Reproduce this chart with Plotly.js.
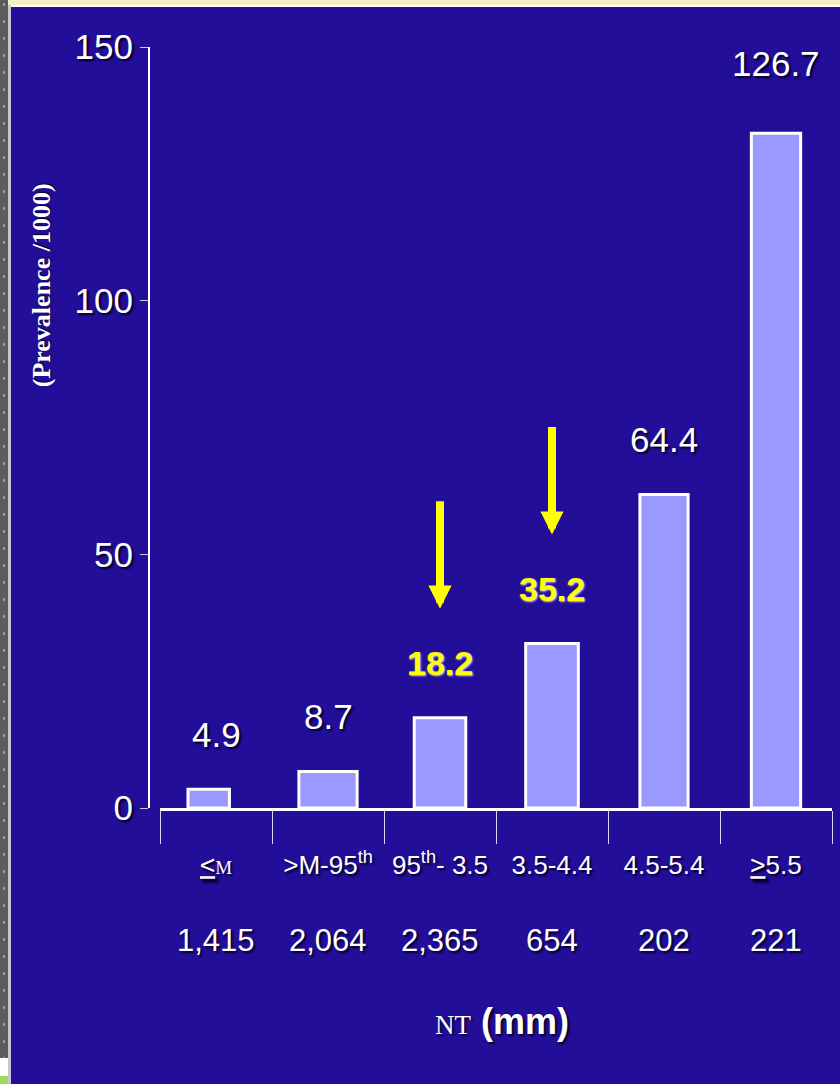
<!DOCTYPE html>
<html>
<head>
<meta charset="utf-8">
<script src="https://cdn.plot.ly/plotly-3.0.1.min.js"></script>
<style>
  html, body { margin:0; padding:0; background:#ffffff; width:840px; height:1084px; overflow:hidden; position:relative; }
  #strip { position:absolute; left:0; top:0; width:8px; height:1058px; background-color:#5c5c5c;
    background-image: radial-gradient(circle, #9a9a9a 1.2px, rgba(0,0,0,0) 1.6px);
    background-size: 8px 17px; background-position: 0 -4px; }
  #strip2 { position:absolute; left:8px; top:0; width:3px; height:1084px; background:#c8c8c8; }
  #green { position:absolute; left:0; top:1076px; width:8px; height:8px; background:#9ed85a; }
  #topbar { position:absolute; left:8px; top:0; width:832px; height:5px; background:#f3efc6; }
  #topline { position:absolute; left:11px; top:5px; width:829px; height:2px; background:#ffffff; }
  #chart { position:absolute; left:11px; top:7px; width:829px; height:1077px; }
</style>
</head>
<body>
<div id="strip"></div><div id="strip2"></div><div id="green"></div>
<div id="topbar"></div><div id="topline"></div>
<div id="chart"></div>
<script>
// ---- data ----
const categories = ['≤M', '>M-95th', '95th-3.5', '3.5-4.4', '4.5-5.4', '≥5.5'];
const tickLabels = [
  '<u>&lt;</u><span style="font-family:\'Liberation Serif\';font-size:19px">M</span>',
  '&gt;M-95<sup>th</sup>',
  '95<sup>th</sup>- 3.5',
  '3.5-4.4',
  '4.5-5.4',
  '<u>&gt;</u>5.5'
];
const barHeights = [3.7, 7.2, 17.8, 32.4, 61.8, 133.0];
const prevalenceLabels = ['4.9', '8.7', '18.2', '35.2', '64.4', '126.7'];
const counts = ['1,415', '2,064', '2,365', '654', '202', '221'];
const highlighted = [false, false, true, true, false, false];
const yTicks = [0, 50, 100, 150];

// ---- styling ----
const BG = '#220e98';
const SHADOW = '2px 2px 2px #05002a';
const YSHADOW = '1px 1px 2px #d0d0ff';
const sans = 'Liberation Sans, Arial, sans-serif';
const serif = 'Liberation Serif, Times New Roman, serif';

const annotations = [];
categories.forEach((c, i) => {
  const hi = highlighted[i];
  const last = i === categories.length - 1;
  annotations.push({
    x: c, y: barHeights[i], xref: 'x', yref: 'y',
    text: prevalenceLabels[i], showarrow: false,
    yanchor: 'middle', yshift: last ? 70 : 55,
    font: hi ? {family: sans, size: 34, color: '#ffff00', weight: 'bold', shadow: YSHADOW}
             : {family: sans, size: 35, color: '#ffffff', shadow: SHADOW}
  });
  annotations.push({
    x: c, xref: 'x', y: -0.1735, yref: 'paper',
    text: counts[i], showarrow: false, yanchor: 'middle',
    font: {family: sans, size: 31, color: '#ffffff', shadow: SHADOW}
  });
  if (hi) {
    annotations.push({
      x: c, y: barHeights[i], xref: 'x', yref: 'y',
      text: '', showarrow: true, ax: 0, ay: -109, yshift: 109,
      arrowcolor: '#ffff00', arrowwidth: 8, arrowhead: 2, arrowsize: 0.58,
      standoff: 0, startstandoff: 0
    });
  }
});
annotations.push({
  xref: 'paper', yref: 'paper', x: -0.158, y: 0.687,
  text: '<b>(Prevalence /1000)</b>', textangle: -90, showarrow: false,
  xanchor: 'center', yanchor: 'middle',
  font: {family: serif, size: 26, color: '#ffffff', shadow: '1px 1px 1px #05002a'}
});
annotations.push({
  xref: 'paper', yref: 'paper', x: 0.517, y: -0.281,
  text: '<span style="font-family:\'Liberation Serif\';font-size:27px;font-weight:normal">NT</span> <b>(mm)</b>',
  showarrow: false, xanchor: 'center', yanchor: 'middle',
  font: {family: sans, size: 36, color: '#ffffff', shadow: SHADOW}
});

const trace = {
  type: 'bar',
  x: categories,
  y: barHeights,
  width: [0.37, 0.52, 0.46, 0.47, 0.43, 0.44],
  offset: [-0.25, -0.26, -0.23, -0.235, -0.215, -0.22],
  marker: {color: '#9999ff', line: {color: '#ffffff', width: 3}},
  hoverinfo: 'skip'
};

const layout = {
  width: 829, height: 1077,
  paper_bgcolor: BG, plot_bgcolor: BG,
  margin: {l: 138, r: 8, t: 40, b: 276, pad: 0},
  showlegend: false,
  bargap: 0.5,
  xaxis: {
    type: 'category', domain: [11 / 683, 1],
    tickvals: categories, ticktext: tickLabels,
    showline: true, linecolor: '#ffffff', linewidth: 3,
    ticks: 'outside', tickson: 'boundaries', ticklen: 33, tickwidth: 1, tickcolor: '#d6d6ff',
    ticklabelstandoff: 32,
    tickfont: {family: sans, size: 26, color: '#ffffff', shadow: SHADOW},
    showgrid: false, zeroline: false, fixedrange: true
  },
  yaxis: {
    range: [0, 150], anchor: 'free', position: 0,
    tickvals: yTicks, ticktext: yTicks.map(String),
    showline: true, linecolor: '#ffffff', linewidth: 2,
    ticks: 'outside', ticklen: 8, tickwidth: 1, tickcolor: '#c8c8e8',
    tickfont: {family: sans, size: 35, color: '#ffffff', shadow: SHADOW},
    showgrid: false, zeroline: false, fixedrange: true
  },
  annotations: annotations
};

Plotly.newPlot('chart', [trace], layout, {staticPlot: true, displayModeBar: false});
</script>
</body>
</html>
